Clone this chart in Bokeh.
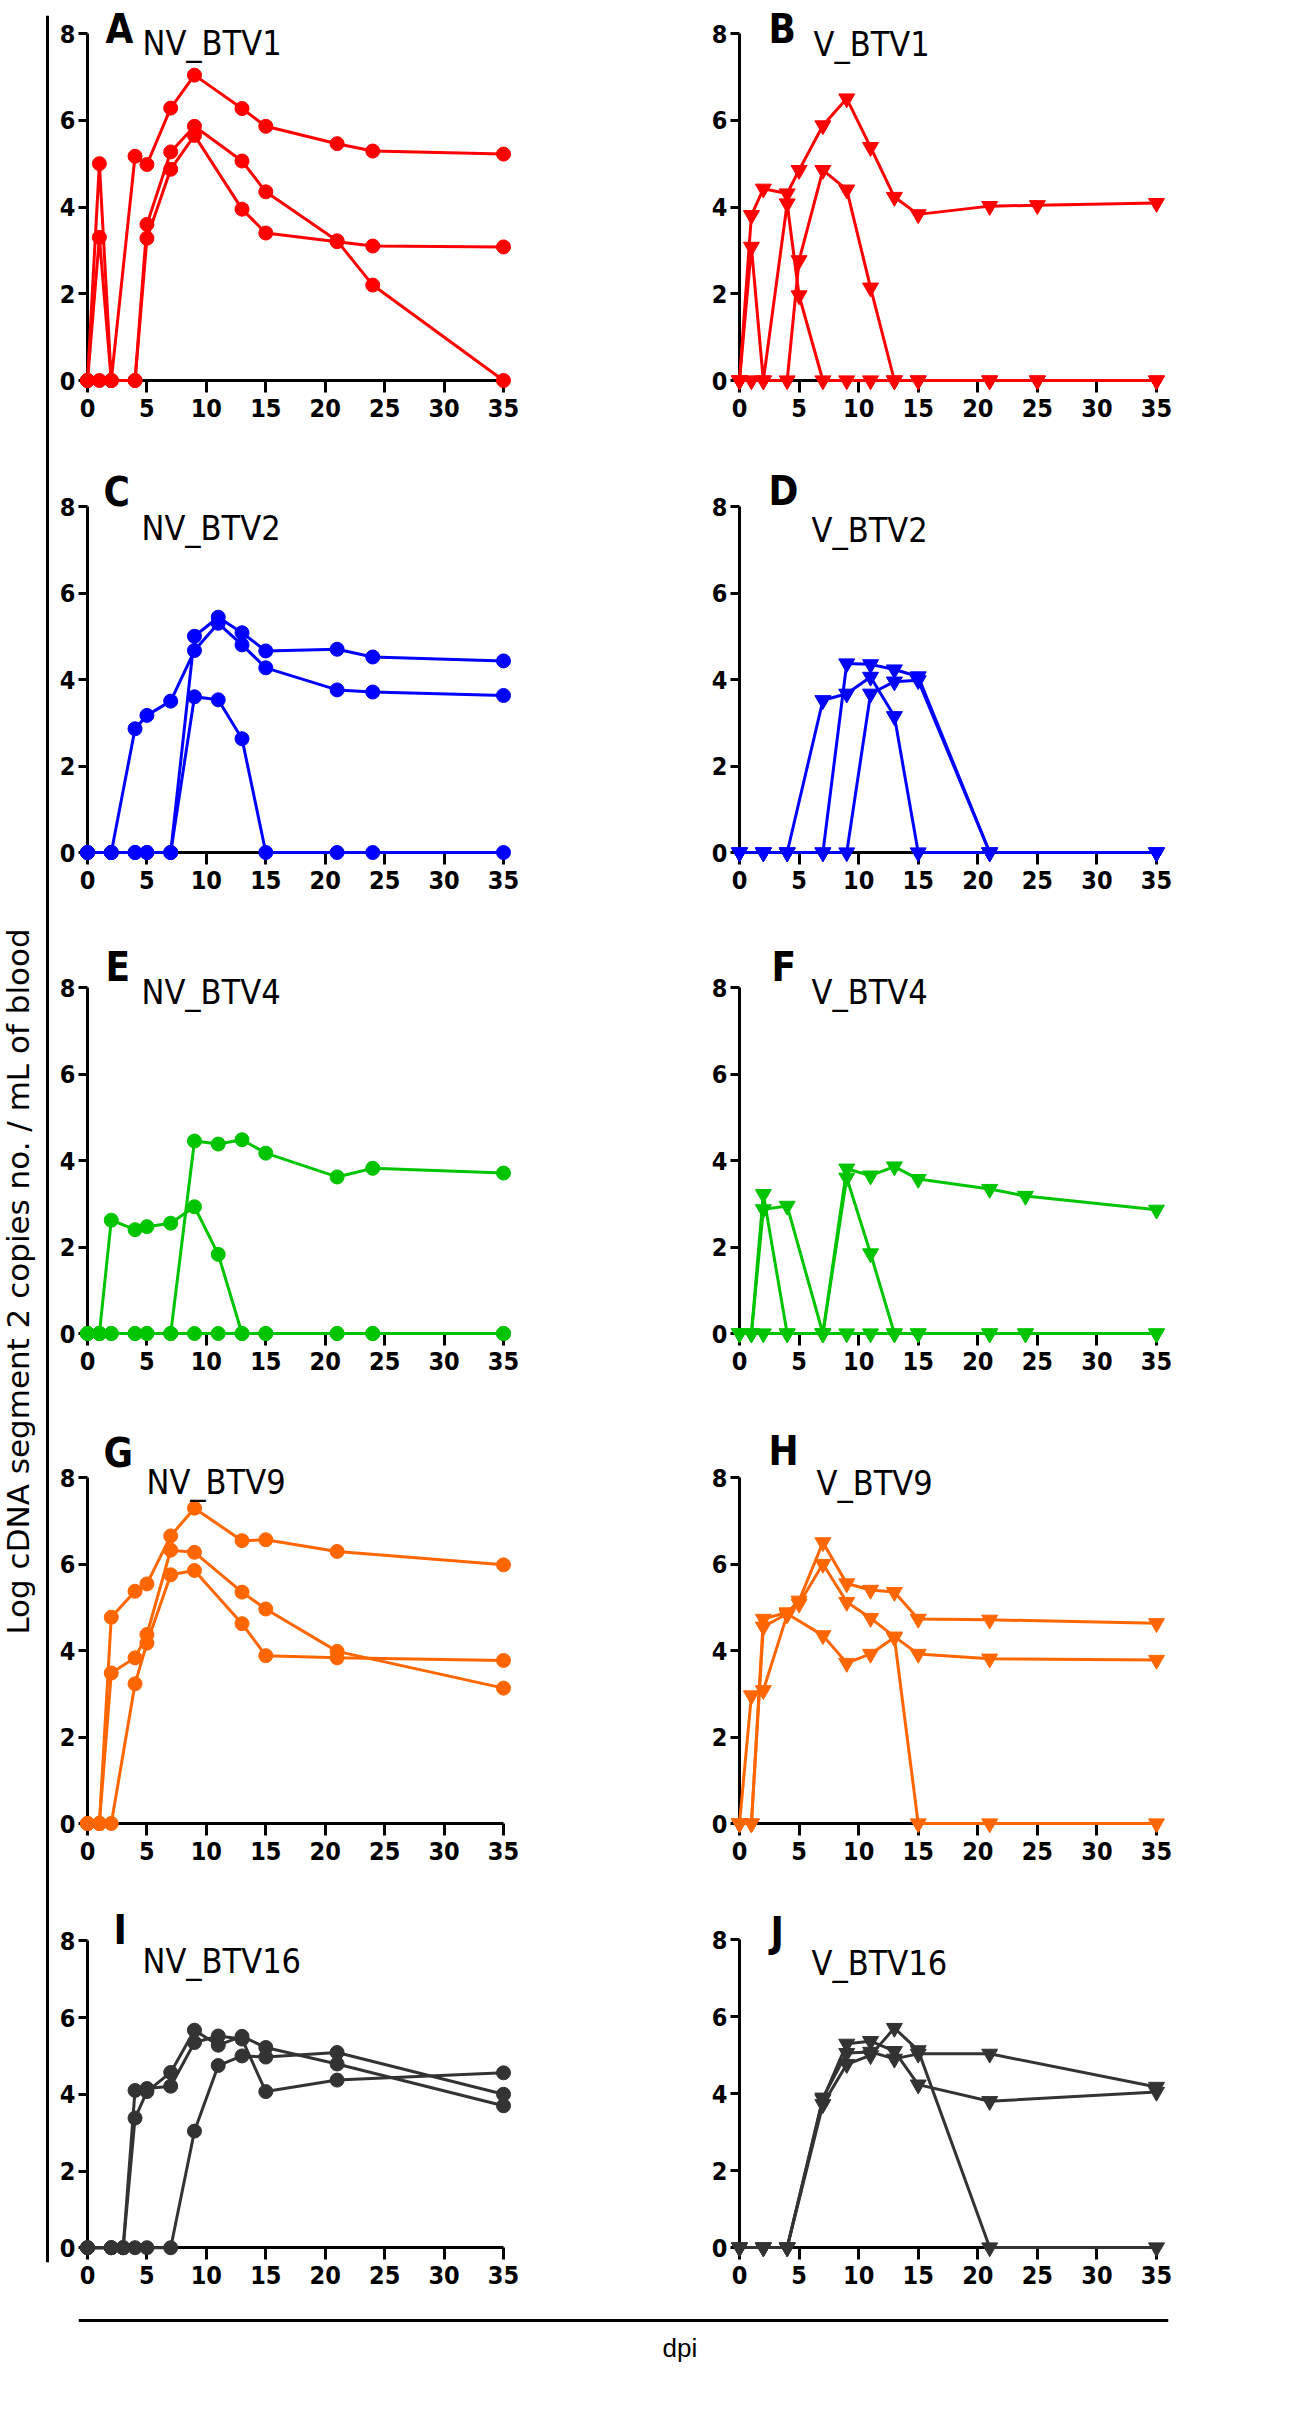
import math
from bokeh.plotting import figure
from bokeh.models import Range1d, FixedTicker, Label, LinearAxis, Span
from bokeh.layouts import row, column
from bokeh.embed import file_html
from bokeh.resources import INLINE

# ---------------- data (dpi and log copies) ----------------
X_TICKS = [0, 5, 10, 15, 20, 25, 30, 35]
Y_TICKS = [0, 2, 4, 6, 8]

A_x = [0, 1, 2, 4, 5, 7, 9, 13, 15, 21, 24, 35]
A_1 = [0, 5.0, 0, 5.17, 4.98, 6.28, 7.04, 6.27, 5.86, 5.46, 5.29, 5.22]
A_2 = [0, 3.3, 0, 0, 3.6, 5.27, 5.86, 5.06, 4.35, 3.22, 2.2, 0]
A_3 = [0, 0, 0, 0, 3.28, 4.87, 5.65, 3.95, 3.4, 3.2, 3.1, 3.08]

B_x = [0, 1, 2, 4, 5, 7, 9, 11, 13, 15, 21, 25, 35]
B_1 = [0, 3.81, 4.42, 4.31, 4.85, 5.88, 6.5, 5.38, 4.23, 3.83, 4.02, 4.04, 4.09]
B_2 = [0, 3.08, 0, 4.08, 1.96, 0, 0, 0, 0, 0, 0, 0, 0]
B_3 = [0, 0, 0, 0, 2.77, 4.85, 4.4, 2.14, 0, 0, 0, 0, 0]

C_x = [0, 2, 4, 5, 7, 9, 11, 13, 15, 21, 24, 35]
C_1 = [0, 0, 2.86, 3.17, 3.5, 4.67, 5.3, 4.8, 4.27, 3.76, 3.71, 3.63]
C_2 = [0, 0, 0, 0, 0, 5.0, 5.44, 5.08, 4.66, 4.7, 4.52, 4.43]
C_3 = [0, 0, 0, 0, 0, 3.6, 3.53, 2.63, 0, 0, 0, 0]

D_x = [0, 2, 4, 7, 9, 11, 13, 15, 21, 35]
D_1 = [0, 0, 0, 3.52, 3.67, 4.06, 3.15, 0, 0, 0]
D_2 = [0, 0, 0, 0, 4.37, 4.35, 4.23, 4.07, 0, 0]
D_3 = [0, 0, 0, 0, 0, 3.67, 3.95, 3.98, 0, 0]

E_x = [0, 1, 2, 4, 5, 7, 9, 11, 13, 15, 21, 24, 35]
E_1 = [0, 0, 2.62, 2.4, 2.47, 2.55, 2.93, 1.83, 0, 0, 0, 0, 0]
E_2 = [0, 0, 0, 0, 0, 0, 4.45, 4.38, 4.48, 4.17, 3.62, 3.82, 3.71]
E_3 = [0, 0, 0, 0, 0, 0, 0, 0, 0, 0, 0, 0, 0]

F_x = [0, 1, 2, 4, 7, 9, 11, 13, 15, 21, 24, 35]
F_1 = [0, 0, 3.22, 0, 0, 3.6, 1.85, 0, 0, 0, 0, 0]
F_2 = [0, 0, 2.87, 2.95, 0, 3.81, 3.65, 3.86, 3.57, 3.34, 3.18, 2.86]
F_3 = [0, 0, 0, 0, 0, 0, 0, 0, 0, 0, 0, 0]

G_x = [0, 1, 2, 4, 5, 7, 9, 13, 15, 21, 35]
G_1 = [0, 0, 4.77, 5.37, 5.54, 6.65, 7.29, 6.54, 6.56, 6.29, 5.98]
G_2 = [0, 0, 3.48, 3.83, 4.37, 6.32, 6.27, 5.35, 4.96, 3.98, 3.13]
G_3 = [0, 0, 0, 3.23, 4.17, 5.75, 5.85, 4.62, 3.88, 3.83, 3.77]

H_x = [0, 1, 2, 4, 5, 7, 9, 11, 13, 15, 21, 35]
H_1 = [0, 0, 4.73, 4.88, 5.15, 6.5, 5.55, 5.4, 5.35, 4.73, 4.71, 4.63]
H_2 = [0, 2.96, 3.08, 4.83, 5.08, 6.0, 5.12, 4.75, 4.32, 3.92, 3.81, 3.78]
H_x3 = [0, 1, 2, 4, 7, 9, 11, 13, 15, 21, 35]
H_3 = [0, 0, 4.55, 4.85, 4.35, 3.71, 3.92, 4.3, 0, 0, 0]

I_x = [0, 2, 3, 4, 5, 7, 9, 11, 13, 15, 21, 35]
I_1 = [0, 0, 0, 4.1, 4.15, 4.21, 5.35, 5.52, 5.44, 4.07, 4.37, 4.56]
I_2 = [0, 0, 0, 3.38, 4.07, 4.57, 5.67, 5.28, 5.51, 5.22, 4.79, 3.7]
I_3 = [0, 0, 0, 0, 0, 0, 3.04, 4.75, 5.0, 4.97, 5.09, 4.0]

J_x = [0, 2, 4, 7, 9, 11, 13, 15, 21, 35]
J_1 = [0, 0, 0, 3.85, 5.29, 5.36, 5.1, 4.23, 3.8, 4.04]
J_2 = [0, 0, 0, 3.72, 4.76, 4.99, 5.7, 5.12, 0, 0]
J_3 = [0, 0, 0, 3.89, 5.05, 5.08, 4.9, 5.03, 5.03, 4.17]

Y_TITLE = "Log cDNA segment 2 copies no. / mL of blood"
X_TITLE = "dpi"

# ---------------- styling / geometry (page pixels) ----------------
NARROW = "'Liberation Sans Narrow', 'Arial Narrow', 'DejaVu Sans Condensed', sans-serif"
RED, BLUE, GREEN, ORANGE, DARK = "#ff0000", "#0000ff", "#00c400", "#ff6600", "#333333"

COLS = {  # fig_left, fig_right, frame_left, frame_right, axis x=0 px, axis x=35 px
    "L": (50, 650, 76, 515, 87, 503),
    "R": (650, 1190, 728, 1168, 739, 1156),
}


def line_axis(ticks, bounds, tick_len):
    # axis line + tick marks only (ticks given as minor ticks, so no labels exist)
    ax = LinearAxis(ticker=FixedTicker(ticks=[], minor_ticks=ticks), fixed_location=0, bounds=bounds)
    ax.axis_line_width = 3
    ax.axis_line_color = "black"
    ax.major_tick_line_color = None
    ax.major_tick_out = 0
    ax.major_label_standoff = 0
    ax.minor_tick_in = tick_len
    ax.minor_tick_out = 0
    ax.minor_tick_line_width = 3
    ax.minor_tick_line_color = "black"
    return ax


def label_axis(ticks, standoff):
    ax = LinearAxis(ticker=FixedTicker(ticks=ticks))
    ax.axis_line_color = None
    ax.major_tick_line_color = None
    ax.minor_tick_line_color = None
    ax.major_tick_out = 0
    ax.major_tick_in = 0
    ax.major_label_standoff = standoff
    ax.major_label_text_font = NARROW
    ax.major_label_text_font_style = "bold"
    ax.major_label_text_font_size = "25px"
    ax.major_label_text_color = "black"
    return ax


def panel(series, color, marker, letter, name, side, fig_top, fig_bot, y8, y0,
          letter_off, name_off):
    fl_fig, fr_fig, fl, fr, ax0, ax35 = COLS[side]
    ft = fig_top + 2
    fb = y0 + 13
    pxu = (ax35 - ax0) / 35.0
    pyu = (y0 - y8) / 8.0
    xr = Range1d(-(ax0 - fl) / pxu, 35 + (fr - ax35) / pxu)
    yr = Range1d(-(fb - y0) / pyu, 8 + (y8 - ft) / pyu)
    p = figure(width=fr_fig - fl_fig, height=fig_bot - fig_top, x_range=xr, y_range=yr,
               min_border_left=fl - fl_fig, min_border_right=fr_fig - fr,
               min_border_top=ft - fig_top, min_border_bottom=fig_bot - fb,
               toolbar_location=None, output_backend="svg", title=None,
               x_axis_location=None, y_axis_location=None)
    p.grid.visible = False
    p.outline_line_color = None
    p.background_fill_color = "white"
    p.border_fill_color = "white"

    p.add_layout(line_axis(X_TICKS, (0, 35), 12), "above")
    p.add_layout(line_axis(Y_TICKS, (0, 8), 9), "right")
    p.add_layout(label_axis(X_TICKS, 5), "below")
    p.add_layout(label_axis(Y_TICKS, 1), "left")

    size = 14 if marker == "circle" else 16
    for xs, ys in series:
        p.line(xs, ys, line_color=color, line_width=3, level="annotation")
        p.scatter(xs, ys, marker=marker, size=size, fill_color=color,
                  line_color=color, line_width=1, level="annotation")

    p.add_layout(Label(x=0, y=8, x_offset=letter_off[0], y_offset=letter_off[1], text=letter,
                       text_font=NARROW, text_font_style="bold", text_font_size="40px",
                       text_color="black", text_baseline="middle", text_align="left"))
    p.add_layout(Label(x=0, y=8, x_offset=name_off[0], y_offset=name_off[1], text=name,
                       text_font=NARROW, text_font_size="34px",
                       text_color="black", text_baseline="middle", text_align="left"))
    return p


pA = panel([(A_x, A_1), (A_x, A_2), (A_x, A_3)], RED, "circle", "A", "NV_BTV1", "L",
           0, 450, 33, 380, (18, 5), (55, -9.5))
pB = panel([(B_x, B_1), (B_x, B_2), (B_x, B_3)], RED, "inverted_triangle", "B", "V_BTV1", "R",
           0, 450, 33, 380, (29, 5), (74, -10.5))
pC = panel([(C_x, C_1), (C_x, C_2), (C_x, C_3)], BLUE, "circle", "C", "NV_BTV2", "L",
           450, 930, 506, 852, (16, 15), (54, -21.5))
pD = panel([(D_x, D_1), (D_x, D_2), (D_x, D_3)], BLUE, "inverted_triangle", "D", "V_BTV2", "R",
           450, 930, 506, 852, (29, 16), (72, -23))
pE = panel([(E_x, E_1), (E_x, E_2), (E_x, E_3)], GREEN, "circle", "E", "NV_BTV4", "L",
           930, 1420, 987, 1333, (18, 21), (54, -4))
pF = panel([(F_x, F_1), (F_x, F_2), (F_x, F_3)], GREEN, "inverted_triangle", "F", "V_BTV4", "R",
           930, 1420, 987, 1333, (32, 21), (72, -4))
pG = panel([(G_x, G_1), (G_x, G_2), (G_x, G_3)], ORANGE, "circle", "G", "NV_BTV9", "L",
           1420, 1900, 1477, 1823, (16, 25), (59, -4.5))
pH = panel([(H_x, H_1), (H_x, H_2), (H_x3, H_3)], ORANGE, "inverted_triangle", "H", "V_BTV9", "R",
           1420, 1900, 1477, 1823, (29, 27), (77, -5.5))
pI = panel([(I_x, I_1), (I_x, I_2), (I_x, I_3)], DARK, "circle", "I", "NV_BTV16", "L",
           1900, 2315, 1941, 2253, (26, 10.5), (55, -20.5))
pJ = panel([(J_x, J_1), (J_x, J_2), (J_x, J_3)], DARK, "inverted_triangle", "J", "V_BTV16", "R",
           1900, 2315, 1939, 2247, (31, 8), (72, -23.5))

# left strip: long vertical rule + rotated y title (frame spans 15..2262 px)
left = figure(width=50, height=2380, x_range=Range1d(0, 50), y_range=Range1d(0, 2247),
              min_border_left=0, min_border_right=0, min_border_top=15, min_border_bottom=118,
              toolbar_location=None, output_backend="svg", title=None,
              x_axis_location=None, y_axis_location=None)
left.grid.visible = False
left.outline_line_color = None
left.add_layout(Span(location=47, dimension="height", line_color="black", line_width=3))
left.add_layout(Label(x=17, y=2262 - 1281, text=Y_TITLE, angle=math.pi / 2,
                      text_align="center", text_baseline="middle",
                      text_font="DejaVu Sans", text_font_size="31px", text_color="black"))

# bottom strip: long horizontal rule + "dpi"
bottom = figure(width=1140, height=65, x_range=Range1d(0, 1090), y_range=Range1d(0, 65),
                min_border_left=28, min_border_right=22, min_border_top=0, min_border_bottom=0,
                toolbar_location=None, output_backend="svg", title=None,
                x_axis_location=None, y_axis_location=None)
bottom.grid.visible = False
bottom.outline_line_color = None
bottom.add_layout(Span(location=60, dimension="width", line_color="black", line_width=3))
bottom.add_layout(Label(x=584, y=33, text=X_TITLE,
                        text_align="left", text_baseline="middle",
                        text_font="Liberation Sans", text_font_size="26px", text_color="black"))

right_col = column(row(pA, pB), row(pC, pD), row(pE, pF), row(pG, pH), row(pI, pJ), bottom)
layout = row(left, right_col)

open("out.html", "w").write(file_html(layout, INLINE))
